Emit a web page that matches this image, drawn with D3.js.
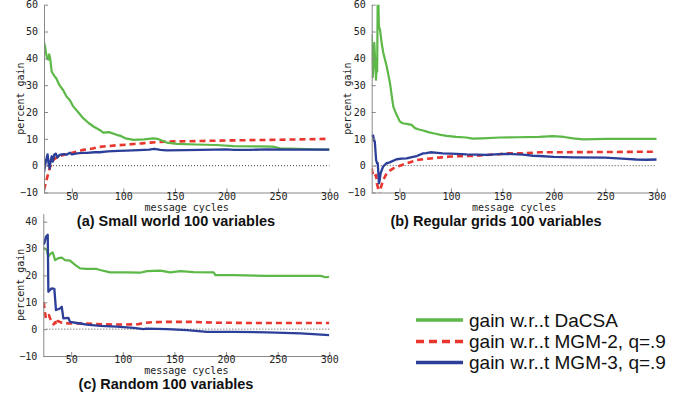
<!DOCTYPE html>
<html><head><meta charset="utf-8">
<script src="https://cdn.jsdelivr.net/npm/d3@7"></script>
<style>html,body{margin:0;padding:0;background:#fff;}svg{display:block;}</style>
</head><body>
<svg id="chart" width="686" height="403"></svg>
<script>
// ---------- data ----------
const xTicks = [50, 100, 150, 200, 250, 300];
const yTicksTop = [-10, 0, 10, 20, 30, 40, 50, 60];
const yTicksBottom = [-10, 0, 10, 20, 30, 40];
const seriesNames = ["gain w.r..t DaCSA", "gain w.r..t MGM-2, q=.9", "gain w.r..t MGM-3, q=.9"];
const panelTitles = ["(a) Small world 100 variables", "(b) Regular grids 100 variables", "(c) Random 100 variables"];

// (a) Small world
const smallDaCSA = [[23,46],[24,44.5],[25,42],[26,40],[27,39.5],[28,41.5],[29,40],[30.5,35],[33,33.5],[35,32.5],[38,30],[41.5,28.2],[45,25.7],[48,24.5],[51.5,22],[56,20],[61,17.7],[66,16],[71,14.6],[77,13.3],[80.5,12.3],[86,12.5],[93.5,11.5],[98,11],[102,10.2],[110,9.6],[120,9.8],[129,10.2],[133,10],[142,8.6],[152,8.1],[170,7.9],[190,7.7],[207,7.3],[230,7.2],[245,7.1],[252,6.5],[270,6.3],[285,6.1],[300,6.0]];
const smallMGM2 = [[23,-9],[24,-7.5],[25.5,-5.3],[27,-3],[29,-0.4],[32,2.1],[35,3],[38.5,3.6],[43,4.2],[48,4.6],[55,5.3],[61,5.9],[70,6.4],[77,7.0],[85,7.3],[94,7.6],[103,7.8],[110,8.1],[118,8.3],[126,8.6],[135,8.8],[142,9.0],[160,9.1],[175,9.2],[200,9.4],[240,9.6],[270,9.8],[300,10.0]];
const smallMGM3 = [[23,-2.5],[24,0],[25,2],[26.5,4.2],[27.5,0.5],[28.5,-1],[29.5,2],[30.5,3.5],[31.5,1.5],[33,4.2],[34.5,4.5],[36,3],[38,4],[42,4.3],[45,4.1],[48,4.8],[50,4.2],[55,4.6],[60,4.8],[65,4.8],[72,5.0],[77,5.0],[85,5.3],[95,5.5],[103,5.6],[115,5.8],[125,6.0],[130,6.3],[136,5.9],[142,5.7],[160,5.8],[175,5.9],[200,6.1],[207,5.9],[223,5.9],[240,6.1],[260,6.0],[300,6.0]];

// (b) Regular grids
const gridDaCSA = [[23,49],[24,33],[25,40],[25.5,45.8],[26.5,38],[27.2,32],[27.8,38],[28.3,35],[28.8,61],[29.5,61],[30,52],[31.1,50.6],[32.7,45.7],[34.3,42],[37.6,37],[40.8,30.7],[42.5,26],[44,22],[45.5,20.5],[47.3,18.9],[50.5,16.4],[53,15.8],[57,15.6],[61.8,15.2],[65,14],[69,13.5],[73,13.1],[78,12.5],[82.8,12.1],[90,11.5],[95.8,11.1],[105,10.7],[115,10.5],[121,10.1],[130,10.2],[147.5,10.5],[165,10.6],[186,10.7],[199,11.0],[210,10.7],[218.7,10.2],[228.4,9.8],[251,10.0],[300,10.0]];
const gridMGM2 = [[23,-1],[24.5,-4.1],[26,-4],[27.2,-3.5],[28,-6.6],[29,-8],[30,-11],[31,-11],[32,-8],[34.3,-5.3],[37.6,-2.8],[40,-2],[44,-1],[50.5,0],[57,0.9],[62,1.5],[66.8,2.1],[75,2.5],[80,2.7],[91,3.1],[99,3.4],[115,3.6],[121,3.6],[131,3.9],[147.5,4.3],[155,4.6],[170,4.6],[186,5.0],[200,5.0],[250,5.1],[300,5.2]];
const gridMGM3 = [[23,11.5],[24,10.8],[24.5,11.2],[25,9.5],[26,9],[27.3,2.1],[28.2,0.9],[28.8,1],[29.5,-2.8],[30,-6.6],[30.5,-6],[31.7,-2.8],[34,-0.4],[37.3,0.9],[39,1],[42,1.5],[47.3,2.4],[52,2.6],[57,2.7],[62,3.2],[66.8,3.6],[73,4.6],[76,4.7],[80,5.0],[87,4.8],[92,4.6],[100,4.5],[115,4.2],[125,4.1],[135,4.0],[147.5,4.3],[154,4.4],[170,4.1],[180,3.7],[186,3.6],[200,3.3],[219,3.1],[250,3.0],[270,2.5],[280,2.3],[290,2.2],[300,2.3]];

// (c) Random
const randDaCSA = [[23,30],[24,30.1],[26.3,29.5],[27.9,27],[29.5,27.9],[32.1,28.6],[34.4,25.7],[37.6,26.4],[40.9,26.6],[44.1,25.7],[48.9,25.5],[53.8,23.9],[58.6,22.6],[65.1,22.4],[74.8,22.4],[78,22.0],[87.8,21.1],[104,21.1],[116.9,21.0],[123.4,21.6],[136.3,21.8],[146.1,21.1],[155.8,21.6],[168.6,21.2],[188,21.1],[189.7,20.1],[207.5,20.1],[239.9,19.8],[291.6,19.8],[296.4,19.3],[300,19.5]];
const randMGM2 = [[23,10],[23.5,9.6],[24.5,6.5],[25.5,4.0],[27,4.6],[28.5,5.2],[29.5,4.0],[31.5,2.7],[33,1.8],[34.5,2.6],[35.5,1.5],[37,3.0],[39,2.7],[40,2.5],[48,2.1],[60,2.1],[80,1.8],[94,1.7],[115,1.8],[120,2.3],[130,2.6],[143,2.7],[166,2.7],[190,2.4],[220,2.3],[300,2.3]];
const randMGM3 = [[23,31.5],[24,32],[25.6,34.4],[27.3,35.1],[27.9,13.9],[29.5,14.6],[31.2,15.2],[33.7,15],[35.3,7.1],[39.2,7.7],[40.9,8.3],[42.4,4.0],[47.3,4.2],[48.9,2.7],[58.6,2.1],[65.1,1.7],[78,1.2],[94.3,0.9],[110.4,0.5],[120.1,0],[123,0.2],[142.8,0],[162.2,-0.4],[181.6,-1.0],[207.5,-1],[239.9,-1.2],[272.3,-1.6],[300,-2.2]];

const xDomain = [23, 300];

// ---------- styles / layout ----------
const colors = ["#5cb847", "#e8352e", "#2c3f98"];
const dashes = [null, "6,4", null];
const widths = [2.2, 2.6, 2.3];
const monoFont = "'DejaVu Sans Mono', monospace";
const titleFont = "'Liberation Sans', Arial, sans-serif";

const panels = [
  {x0: 44, x1: 329.5, yTop: 4.7, yBot: 192.5, yDomain: [-10, 60], yTicks: yTicksTop,
   series: [smallDaCSA, smallMGM2, smallMGM3], title: panelTitles[0], titleX: 176, titleY: 226, yLabelX: 20},
  {x0: 371.7, x1: 656.7, yTop: 4.7, yBot: 192.5, yDomain: [-10, 60], yTicks: yTicksTop,
   series: [gridDaCSA, gridMGM2, gridMGM3], title: panelTitles[1], titleX: 496, titleY: 226, yLabelX: 347},
  {x0: 43.3, x1: 329.3, yTop: 213.6, yBot: 356, yDomain: [-10, 43], yTicks: yTicksBottom,
   series: [randDaCSA, randMGM2, randMGM3], title: panelTitles[2], titleX: 166, titleY: 389, yLabelX: 20}
];

const svg = d3.select("#chart");

panels.forEach((p, pi) => {
  const x = d3.scaleLinear().domain(xDomain).range([p.x0, p.x1]);
  const y = d3.scaleLinear().domain(p.yDomain).range([p.yBot, p.yTop]);
  const g = svg.append("g");

  const clipId = "clip" + pi;
  svg.append("clipPath").attr("id", clipId).append("rect")
    .attr("x", p.x0).attr("y", p.yTop).attr("width", p.x1 - p.x0).attr("height", p.yBot - p.yTop);

  // zero dotted line
  g.append("line").attr("x1", x(xDomain[0]) + 3).attr("x2", x(xDomain[1]))
    .attr("y1", y(0)).attr("y2", y(0))
    .attr("stroke", "#444").attr("stroke-width", 1).attr("stroke-dasharray", "1,2");

  // lines
  const line = d3.line().x(d => x(d[0])).y(d => y(d[1]));
  const order = [1, 0, 2];
  order.forEach(si => {
    g.append("path").datum(p.series[si])
      .attr("clip-path", `url(#${clipId})`)
      .attr("d", line).attr("fill", "none")
      .attr("stroke", colors[si]).attr("stroke-width", widths[si])
      .attr("stroke-linejoin", "round")
      .attr("stroke-dasharray", dashes[si]);
  });

  // axes
  const yAxis = d3.axisLeft(y).tickValues(p.yTicks).tickSizeInner(-4).tickSizeOuter(0).tickPadding(6);
  const ga = g.append("g").attr("transform", `translate(${p.x0},0)`).call(yAxis);
  const xAxis = d3.axisBottom(x).tickValues(xTicks).tickSizeInner(-4).tickSizeOuter(0).tickPadding(3);
  const gx = g.append("g").attr("transform", `translate(0,${p.yBot})`).call(xAxis);
  [ga, gx].forEach(a => {
    a.select(".domain").attr("stroke", "#888").attr("stroke-width", 1);
    a.selectAll(".tick line").attr("stroke", "#888");
    a.selectAll("text").attr("font-family", monoFont).attr("font-size", 10).attr("fill", "#222");
  });
  gx.selectAll("text").attr("dy", "0.4em");

  g.append("text").attr("x", (p.x0 + p.x1) / 2).attr("y", p.yBot + 18)
    .attr("text-anchor", "middle").attr("font-family", monoFont).attr("font-size", 10)
    .attr("fill", "#222").text("message cycles");

  g.append("text")
    .attr("transform", `translate(${p.yLabelX},${(p.yTop + p.yBot) / 2}) rotate(-90)`)
    .attr("text-anchor", "middle").attr("dy", "0.35em")
    .attr("font-family", monoFont).attr("font-size", 10).attr("fill", "#222").text("percent gain");

  g.append("text").attr("x", p.titleX).attr("y", p.titleY)
    .attr("text-anchor", "middle").attr("font-family", titleFont).attr("font-weight", "bold")
    .attr("font-size", 14.5).attr("fill", "#111").text(p.title);
});

// legend
const legend = svg.append("g");
const legY = [320, 341.5, 362.5];
seriesNames.forEach((name, i) => {
  legend.append("line").attr("x1", 416).attr("x2", 463).attr("y1", legY[i]).attr("y2", legY[i])
    .attr("stroke", colors[i]).attr("stroke-width", 3.6).attr("stroke-dasharray", dashes[i] ? "8,5" : null);
  legend.append("text").attr("x", 469).attr("y", legY[i]).attr("dy", "0.35em")
    .attr("font-family", titleFont).attr("font-size", 19).attr("fill", "#111").text(name);
});
</script>
</body></html>
